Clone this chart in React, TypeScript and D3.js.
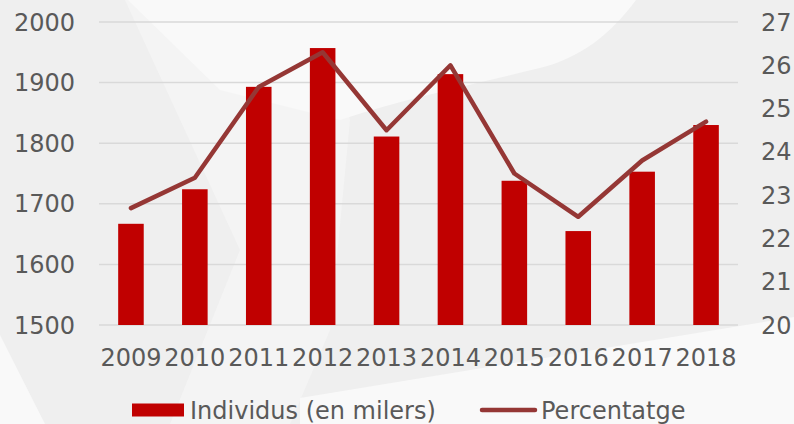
import React from "react";
import * as d3 from "d3";

const years = ["2009", "2010", "2011", "2012", "2013", "2014", "2015", "2016", "2017", "2018"];
const individus = [1667, 1724, 1893, 1957, 1811, 1914, 1738, 1655, 1753, 1830];
const percentatge = [22.7, 23.4, 25.5, 26.3, 24.5, 26.0, 23.5, 22.5, 23.8, 24.7];
const leftTicks = [1500, 1600, 1700, 1800, 1900, 2000];
const rightTicks = [20, 21, 22, 23, 24, 25, 26, 27];
const legendLabels = ["Individus (en milers)", "Percentatge"];

const W = 794;
const H = 424;
const FONT = "'DejaVu Sans', Verdana, sans-serif";
const TEXT = "#595959";

export default function App() {
  const x = d3.scaleBand<string>().domain(years).range([99, 738]).paddingInner(0.6).paddingOuter(0.3);
  const yL = d3.scaleLinear().domain([1500, 2000]).range([325, 22]);
  const yR = d3.scaleLinear().domain([20, 27]).range([325, 22]);
  const line = d3
    .line<number>()
    .x((_, i) => (x(years[i]) as number) + x.bandwidth() / 2)
    .y((d) => yR(d));

  return (
    <svg width={W} height={H} style={{ display: "block", position: "fixed", left: 0, top: 0 }}>
      <rect width={W} height={H} fill="#efefef" />
      <polygon points="125,0 320,0 350,120 330,330 290,424 170,424 240,250" fill="#f4f4f4" />
      <path d="M128,0 L636,0 C610,35 580,58 540,68 C470,85 400,100 340,120 L220,90 Z" fill="#f9f9f9" />
      <polygon points="300,398 794,317 794,424 300,424" fill="#f9f9f9" />
      <polygon points="0,335 0,424 45,424" fill="#f9f9f9" />
      {leftTicks.map((t) => (
        <line key={t} x1={99} x2={738} y1={yL(t)} y2={yL(t)} stroke="#d9d9d9" strokeWidth={1.5} />
      ))}
      {leftTicks.map((t) => (
        <text key={t} x={75} y={yL(t)} dy="0.36em" textAnchor="end" fontFamily={FONT} fontSize={24} fill={TEXT}>
          {t}
        </text>
      ))}
      {rightTicks.map((t) => (
        <text key={t} x={761} y={yR(t)} dy="0.36em" textAnchor="start" fontFamily={FONT} fontSize={24} fill={TEXT}>
          {t}
        </text>
      ))}
      {years.map((yr, i) => (
        <rect
          key={yr}
          x={x(yr)}
          y={yL(individus[i])}
          width={x.bandwidth()}
          height={yL(1500) - yL(individus[i])}
          fill="#C00000"
        />
      ))}
      <path d={line(percentatge) || ""} fill="none" stroke="#953735" strokeWidth={4.5} strokeLinejoin="round" strokeLinecap="round" />
      {years.map((yr) => (
        <text
          key={yr}
          x={(x(yr) as number) + x.bandwidth() / 2}
          y={357}
          dy="0.36em"
          textAnchor="middle"
          fontFamily={FONT}
          fontSize={24}
          fill={TEXT}
        >
          {yr}
        </text>
      ))}
      <rect x={132} y={403.5} width={52} height={13} fill="#C00000" />
      <text x={190} y={410} dy="0.36em" fontFamily={FONT} fontSize={24} fill={TEXT}>
        {legendLabels[0]}
      </text>
      <line x1={482} x2={535} y1={410} y2={410} stroke="#953735" strokeWidth={4.5} strokeLinecap="round" />
      <text x={541} y={410} dy="0.36em" fontFamily={FONT} fontSize={24} fill={TEXT}>
        {legendLabels[1]}
      </text>
    </svg>
  );
}
